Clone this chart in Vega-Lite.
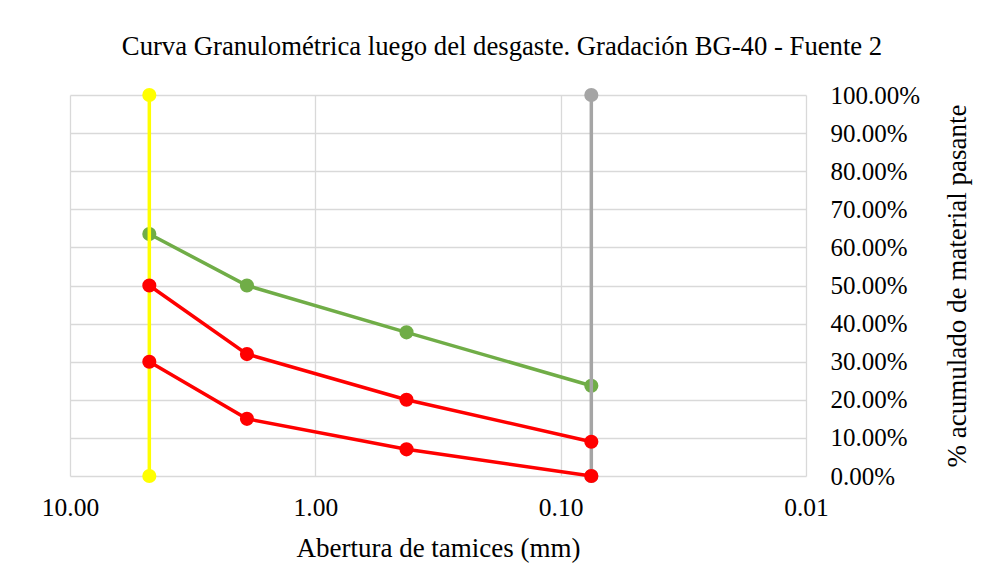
{
  "$schema": "https://vega.github.io/schema/vega-lite/v6.json",
  "width": 736,
  "height": 381,
  "autosize": {"type": "none"},
  "padding": {"left": 70, "top": 95, "right": 175, "bottom": 108},
  "background": "white",
  "title": {
    "text": "Curva Granulométrica luego del desgaste. Gradación BG-40 - Fuente 2",
    "font": "Liberation Serif",
    "fontSize": 26.7,
    "fontWeight": "normal",
    "color": "#000000",
    "anchor": "middle",
    "frame": "group",
    "dx": 64,
    "offset": 22
  },
  "datasets": {
    "curves": [
      {"serie": "Muestra", "abertura": 4.75, "pasante": 63.5},
      {"serie": "Muestra", "abertura": 1.9, "pasante": 50.0},
      {"serie": "Muestra", "abertura": 0.425, "pasante": 37.7},
      {"serie": "Muestra", "abertura": 0.075, "pasante": 23.7},
      {"serie": "Tamiz 4.75", "abertura": 4.75, "pasante": 0},
      {"serie": "Tamiz 4.75", "abertura": 4.75, "pasante": 100},
      {"serie": "Tamiz 0.075", "abertura": 0.075, "pasante": 0},
      {"serie": "Tamiz 0.075", "abertura": 0.075, "pasante": 100},
      {"serie": "Límite superior", "abertura": 4.75, "pasante": 50},
      {"serie": "Límite superior", "abertura": 1.9, "pasante": 32},
      {"serie": "Límite superior", "abertura": 0.425, "pasante": 20},
      {"serie": "Límite superior", "abertura": 0.075, "pasante": 9},
      {"serie": "Límite inferior", "abertura": 4.75, "pasante": 30},
      {"serie": "Límite inferior", "abertura": 1.9, "pasante": 15},
      {"serie": "Límite inferior", "abertura": 0.425, "pasante": 7},
      {"serie": "Límite inferior", "abertura": 0.075, "pasante": 0}
    ]
  },
  "data": {"name": "curves"},
  "encoding": {
    "x": {
      "field": "abertura",
      "type": "quantitative",
      "scale": {"type": "log", "domain": [0.01, 10], "reverse": true, "nice": false},
      "axis": {
        "title": "Abertura de tamices (mm)",
        "values": [10, 1, 0.1, 0.01],
        "format": ".2f",
        "grid": true,
        "gridColor": "#d9d9d9",
        "gridWidth": 1.3,
        "domain": false,
        "ticks": false,
        "labelFont": "Liberation Serif",
        "labelFontSize": 25.5,
        "labelColor": "#000000",
        "labelPadding": 19,
        "labelFlush": false,
        "titleFont": "Liberation Serif",
        "titleFontSize": 27,
        "titleFontWeight": "normal",
        "titleColor": "#000000",
        "titlePadding": 15
      }
    },
    "y": {
      "field": "pasante",
      "type": "quantitative",
      "scale": {"domain": [0, 100], "nice": false},
      "axis": {
        "orient": "right",
        "title": "% acumulado de material pasante",
        "values": [0, 10, 20, 30, 40, 50, 60, 70, 80, 90, 100],
        "labelExpr": "format(datum.value, '.2f') + '%'",
        "grid": true,
        "gridColor": "#d9d9d9",
        "gridWidth": 1.3,
        "domain": false,
        "ticks": false,
        "labelFont": "Liberation Serif",
        "labelFontSize": 25,
        "labelColor": "#000000",
        "labelPadding": 24,
        "labelAlign": "left",
        "labelBaseline": "middle",
        "labelFlush": false,
        "titleFont": "Liberation Serif",
        "titleFontSize": 27,
        "titleFontWeight": "normal",
        "titleColor": "#000000",
        "titleAngle": 270,
        "titlePadding": 52
      }
    }
  },
  "layer": [
    {"transform": [{"filter": "datum.serie === 'Muestra'"}], "mark": {"type": "line", "color": "#70AD47", "strokeWidth": 3.5}},
    {"transform": [{"filter": "datum.serie === 'Muestra'"}], "mark": {"type": "point", "filled": true, "opacity": 1, "color": "#70AD47", "size": 200, "shape": "circle"}},
    {"transform": [{"filter": "datum.serie === 'Tamiz 4.75'"}], "mark": {"type": "line", "color": "#FFFF00", "strokeWidth": 3.5}},
    {"transform": [{"filter": "datum.serie === 'Tamiz 4.75'"}], "mark": {"type": "point", "filled": true, "opacity": 1, "color": "#FFFF00", "size": 200, "shape": "circle"}},
    {"transform": [{"filter": "datum.serie === 'Tamiz 0.075'"}], "mark": {"type": "line", "color": "#A5A5A5", "strokeWidth": 3.5}},
    {"transform": [{"filter": "datum.serie === 'Tamiz 0.075'"}], "mark": {"type": "point", "filled": true, "opacity": 1, "color": "#A5A5A5", "size": 200, "shape": "circle"}},
    {"transform": [{"filter": "datum.serie === 'Límite superior'"}], "mark": {"type": "line", "color": "#FF0000", "strokeWidth": 3.5}},
    {"transform": [{"filter": "datum.serie === 'Límite superior'"}], "mark": {"type": "point", "filled": true, "opacity": 1, "color": "#FF0000", "size": 200, "shape": "circle"}},
    {"transform": [{"filter": "datum.serie === 'Límite inferior'"}], "mark": {"type": "line", "color": "#FF0000", "strokeWidth": 3.5}},
    {"transform": [{"filter": "datum.serie === 'Límite inferior'"}], "mark": {"type": "point", "filled": true, "opacity": 1, "color": "#FF0000", "size": 200, "shape": "circle"}}
  ],
  "config": {
    "view": {"stroke": null},
    "font": "Liberation Serif",
    "title": {"font": "Liberation Serif"}
  }
}
